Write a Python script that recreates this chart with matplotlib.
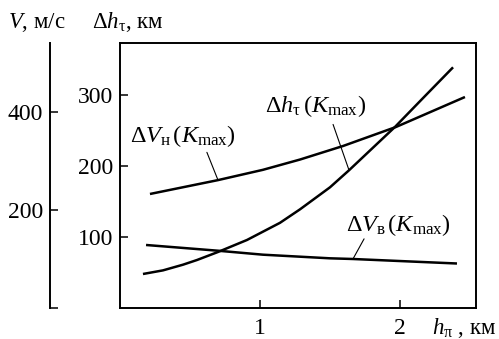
import numpy as np
import matplotlib
matplotlib.use("Agg")
import matplotlib.pyplot as plt

plt.rcParams['font.family'] = ['Liberation Serif', 'DejaVu Serif']
plt.rcParams['mathtext.fontset'] = 'custom'
plt.rcParams['mathtext.rm'] = 'Liberation Serif'
plt.rcParams['mathtext.it'] = 'Liberation Serif:italic'
plt.rcParams['mathtext.bf'] = 'Liberation Serif:bold'

# ---- data ----
h_tau_x = [0.164, 0.307, 0.45, 0.55, 0.70, 0.907, 1.143, 1.286, 1.5, 1.636, 1.964, 2.171, 2.379]
h_tau_y = [47.9, 53.0, 61.0, 67.6, 78.9, 95.8, 120, 139, 170, 194, 255, 297, 339]   # km

dVn_x = [0.214, 0.70, 1.021, 1.286, 1.593, 1.971, 2.464]
dVn_y = [232.7, 261, 282, 303, 330.6, 369.4, 430.6]                                # m/s

dVv_x = [0.186, 0.70, 1.021, 1.5, 1.664, 2.407]
dVv_y = [128.6, 116.9, 108.8, 101.4, 100, 90.8]                                    # m/s

x_ticks = [1, 2]
h_ticks = [100, 200, 300]
v_ticks = [0, 200, 400]
v_ticklabels = ['', '200', '400']

W, H = 499, 339
fig = plt.figure(figsize=(W / 100, H / 100), dpi=100)

L, R, T, B = 120, 476, 43, 308
ax = fig.add_axes([L / W, (H - B) / H, (R - L) / W, (B - T) / H])
ax.set_xlim(0, (R - L) / 140)
ax.set_ylim(0, (B - T) / 0.71)

axv = ax.twinx()
axv.set_ylim(0, (B - T) / 0.49)

for s in ax.spines.values():
    s.set_linewidth(1.4)
for name in ['right', 'top', 'bottom']:
    axv.spines[name].set_visible(False)
axv.spines['left'].set_visible(True)
axv.spines['left'].set_linewidth(1.4)
axv.spines['left'].set_position(('axes', (50 - L) / (R - L)))
axv.yaxis.set_ticks_position('left')
axv.yaxis.set_label_position('left')

tick_kw = dict(direction='in', length=6, width=1.1, labelsize=17, pad=5)
ax.set_xticks(x_ticks)
ax.set_xticklabels([str(t) for t in x_ticks])
ax.set_yticks(h_ticks)
ax.tick_params(axis='both', top=False, right=False, **tick_kw)
ax.tick_params(axis='x', pad=7)
axv.set_yticks(v_ticks)
axv.set_yticklabels(v_ticklabels)
axv.tick_params(axis='y', left=True, right=False, labelleft=True, labelright=False, **tick_kw)

lw = 1.8
ax.plot(h_tau_x, h_tau_y, color='black', lw=lw, solid_capstyle='butt', solid_joinstyle='round')
axv.plot(dVn_x, dVn_y, color='black', lw=lw, solid_capstyle='butt', solid_joinstyle='round')
axv.plot(dVv_x, dVv_y, color='black', lw=lw, solid_capstyle='butt', solid_joinstyle='round')

# leader lines
def leader(a, xs, ys, xp, off):
    yp = np.interp(xp, xs, ys)
    a.annotate('', xy=(xp, yp), xytext=off, textcoords='offset points',
               arrowprops=dict(arrowstyle='-', lw=0.8, color='black',
                               shrinkA=0, shrinkB=0))

leader(ax, h_tau_x, h_tau_y, 1.636, (-11.5, 33))
leader(axv, dVn_x, dVn_y, 0.70, (-8, 20))
leader(axv, dVv_x, dVv_y, 1.664, (8, 14.5))

fs_lab = 17.5
def ftext(px, py, s, **kw):
    fig.text(px / W, 1 - py / H, s, **kw)

ftext(265, 106, r'$\Delta h_{\mathrm{\tau}}\,(K_{\mathrm{max}})$', fontsize=fs_lab, va='center', ha='left')
ftext(130, 136, r'$\Delta V_{\mathrm{н}}\,(K_{\mathrm{max}})$', fontsize=fs_lab, va='center', ha='left')
ftext(346, 225, r'$\Delta V_{\mathrm{в}}\,(K_{\mathrm{max}})$', fontsize=fs_lab, va='center', ha='left')

ftext(8, 22, r'$V$, м/с', fontsize=16.5, va='center', ha='left')
ftext(92, 22, r'$\Delta h_{\mathrm{\tau}}$, км', fontsize=16.5, va='center', ha='left')
ftext(432, 328, r'$h_{\mathrm{\pi}}$ , км', fontsize=16.5, va='center', ha='left')

fig.savefig('out.png', dpi=100)
